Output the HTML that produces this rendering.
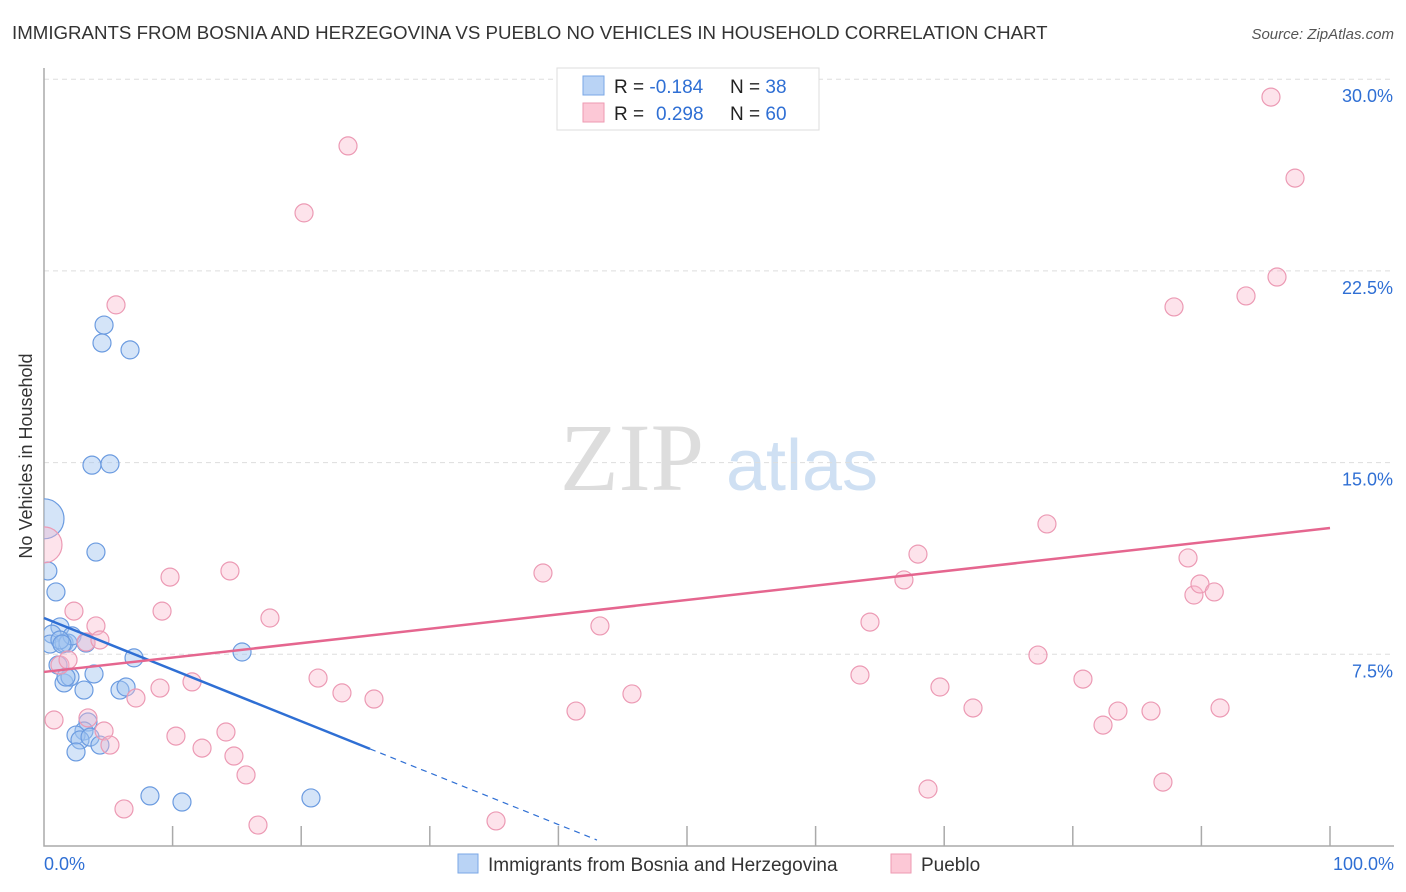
<!DOCTYPE html>
<html><head><meta charset="utf-8"><style>
body{margin:0;background:#fff;font-family:"Liberation Sans",sans-serif;}
svg{display:block}
</style></head><body>
<svg id="chart" width="1406" height="892">
<defs><clipPath id="plotclip"><rect x="44" y="60" width="1362" height="786"/></clipPath></defs>
<text x="12" y="39" font-size="18.7" fill="#333">IMMIGRANTS FROM BOSNIA AND HERZEGOVINA VS PUEBLO NO VEHICLES IN HOUSEHOLD CORRELATION CHART</text>
<text x="1394" y="39" font-size="15" fill="#555" font-style="italic" text-anchor="end">Source: ZipAtlas.com</text>
<text transform="translate(32,456) rotate(-90)" font-size="18" fill="#333" text-anchor="middle">No Vehicles in Household</text>
<g>
<text x="632" y="490" font-size="96" fill="#ddd" font-family="Liberation Serif,serif" text-anchor="middle">ZIP</text>
<text x="802" y="490" font-size="72" fill="#cfe0f3" text-anchor="middle">atlas</text>
</g>
<g id="grid"></g><g id="axes"></g><g id="pts" clip-path="url(#plotclip)"></g><g id="trend"></g>
<g>
<rect x="557" y="68" width="262" height="62" fill="#fff" stroke="#ddd"/>
<rect x="583" y="76" width="21" height="19" fill="#b9d3f5" stroke="#7aa7e6"/>
<rect x="583" y="103" width="21" height="19" fill="#fcc8d6" stroke="#ee9ab2"/>
<text x="614" y="93" font-size="19" fill="#222">R = <tspan fill="#2f6fd4">-0.184</tspan><tspan x="730">N = </tspan><tspan fill="#2f6fd4">38</tspan></text>
<text x="614" y="120" font-size="19" fill="#222">R = <tspan fill="#2f6fd4" x="656">0.298</tspan><tspan x="730">N = </tspan><tspan fill="#2f6fd4">60</tspan></text>
</g>
<g>
<rect x="458" y="854" width="20" height="19" fill="#b9d3f5" stroke="#7aa7e6"/>
<text x="488" y="871" font-size="19" fill="#333">Immigrants from Bosnia and Herzegovina</text>
<rect x="891" y="854" width="20" height="19" fill="#fcc8d6" stroke="#ee9ab2"/>
<text x="921" y="871" font-size="19" fill="#333">Pueblo</text>
</g>
</svg>
<script>
const yTicks=[7.5,15,22.5,30];
const yTickLabels=["7.5%","15.0%","22.5%","30.0%"];
const xTickLabels=["0.0%","100.0%"];
const blueX=[0,0.3,0.93,1.24,0.62,0.47,1.56,1.87,2.18,3.27,1.09,1.56,2.02,3.11,3.89,7.0,5.91,6.38,3.73,5.13,4.04,4.67,4.51,6.69,15.4,3.42,3.11,2.49,2.8,3.58,4.35,2.49,8.24,10.73,20.76,1.71,1.24,1.4];
const blueY=[12.8,10.76,9.94,8.57,8.29,7.9,7.94,7.94,8.22,7.94,7.08,6.38,6.61,6.1,6.73,7.36,6.1,6.22,14.9,14.95,11.5,20.38,19.68,19.41,7.59,4.85,4.5,4.34,4.15,4.26,3.95,3.68,1.96,1.72,1.88,6.61,8.06,7.9];
const pinkX=[0,0.78,1.24,1.87,2.33,3.27,4.04,4.35,5.6,3.42,4.67,5.13,6.22,7.15,9.02,9.18,9.8,10.26,11.51,12.29,14.15,14.46,14.77,15.71,16.64,17.57,20.22,21.31,23.17,23.64,25.66,35.15,38.8,41.37,43.23,45.72,63.45,64.23,66.87,67.96,68.74,69.67,72.24,77.29,77.99,80.79,82.35,83.51,86.08,87.01,87.87,88.96,89.42,89.89,91.0,91.45,93.47,95.41,95.88,97.28];
const pinkY=[11.78,4.93,7.08,7.28,9.19,7.98,8.61,8.06,21.17,5.01,4.5,3.95,1.45,5.79,6.18,9.19,10.52,4.3,6.42,3.83,4.46,10.76,3.52,2.78,0.82,8.92,24.77,6.57,5.99,27.39,5.75,0.98,10.68,5.28,8.61,5.95,6.69,8.76,10.41,11.42,2.23,6.22,5.4,7.47,12.6,6.53,4.73,5.28,5.28,2.5,21.09,11.27,9.82,10.25,9.94,5.4,21.52,29.3,22.26,26.13];
const blueTrend=[8.92,-0.202]; const blueSolidEnd=25.35; const blueDashEnd=43;
const pinkTrend=[6.81,0.0563];
const NS="http://www.w3.org/2000/svg";
const sx=v=>44+v*12.86, sy=v=>846-v*25.56;
function mk(p,t,a){const e=document.createElementNS(NS,t);for(const k in a)e.setAttribute(k,a[k]);document.getElementById(p).appendChild(e);return e;}
yTicks.forEach((t,i)=>{
 const l=mk('grid','line',{x1:44,x2:1394,y1:sy(t),y2:sy(t),stroke:'#ddd','stroke-dasharray':'5,4'});
 
 
 const tx=mk('grid','text',{x:1393,y:sy(t)+23,'font-size':18,fill:'#2f6fd4','text-anchor':'end'});
 tx.textContent=yTickLabels[i];
 
 
});
let a=mk('axes','path',{d:'M44,68V846H1394',fill:'none',stroke:'#aaa','stroke-width':1.5});


for(let i=1;i<=10;i++){const t=mk('axes','line',{x1:sx(i*10),x2:sx(i*10),y1:826,y2:846,stroke:'#aaa','stroke-width':1.5});
 
 }
[[0,'start',44],[1,'end',1394]].forEach(([i,an,x])=>{const t=mk('axes','text',{x:x,y:870,'font-size':18,fill:'#2f6fd4','text-anchor':an});t.textContent=xTickLabels[i];
 
 });
blueX.forEach((v,i)=>{const c=mk('pts','circle',{cx:sx(v),cy:sy(blueY[i]),r:i==0?20:9,fill:'rgba(160,196,240,0.45)',stroke:'#6b9be0','stroke-width':1.2});
 
 });
pinkX.forEach((v,i)=>{const c=mk('pts','circle',{cx:sx(v),cy:sy(pinkY[i]),r:i==0?18:9,fill:'rgba(250,185,205,0.4)',stroke:'#ec9ab4','stroke-width':1.2});
 
 });
const bf=x=>blueTrend[0]+blueTrend[1]*x, pf=x=>pinkTrend[0]+pinkTrend[1]*x;
let l1=mk('trend','line',{x1:sx(0),y1:sy(bf(0)),x2:sx(blueSolidEnd),y2:sy(bf(blueSolidEnd)),stroke:'#2f6fd4','stroke-width':2.5});


let l2=mk('trend','line',{x1:sx(blueSolidEnd),y1:sy(bf(blueSolidEnd)),x2:sx(blueDashEnd),y2:sy(bf(blueDashEnd)),stroke:'#2f6fd4','stroke-width':1.2,'stroke-dasharray':'6,5'});


let l3=mk('trend','line',{x1:sx(0),y1:sy(pf(0)),x2:sx(100),y2:sy(pf(100)),stroke:'#e5668f','stroke-width':2.5});


</script>
</body></html>
